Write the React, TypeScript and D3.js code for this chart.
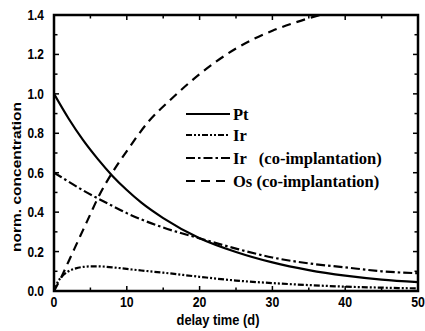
import React from "react";
import * as d3 from "d3";

const ptTime = [0, 2, 4, 6, 8, 10, 12, 15, 20, 25, 30, 35, 40, 45, 50];
const ptValues = [1.0, 0.875, 0.765, 0.67, 0.585, 0.512, 0.448, 0.37, 0.268, 0.198, 0.145, 0.106, 0.078, 0.058, 0.045];

const irTime = [0, 0.5, 1, 2, 3, 4, 5, 6, 8, 10, 12, 15, 20, 25, 30, 35, 40, 45, 50];
const irValues = [0, 0.045, 0.07, 0.1, 0.115, 0.122, 0.125, 0.125, 0.12, 0.112, 0.104, 0.093, 0.072, 0.053, 0.04, 0.03, 0.022, 0.017, 0.013];

const irCoTime = [0, 2, 4, 6, 8, 10, 12, 15, 20, 25, 30, 35, 40, 45, 50];
const irCoValues = [0.6, 0.555, 0.51, 0.47, 0.432, 0.395, 0.363, 0.322, 0.267, 0.215, 0.17, 0.14, 0.12, 0.1, 0.09];

const osTime = [0, 1, 2, 3, 4, 5, 6, 8, 10, 13, 16, 20, 25, 30, 33, 36.5];
const osValues = [0, 0.07, 0.15, 0.23, 0.31, 0.39, 0.47, 0.6, 0.71, 0.86, 0.97, 1.1, 1.23, 1.32, 1.36, 1.4];

const xTickLabels = ["0", "10", "20", "30", "40", "50"];
const yTickLabels = ["0.0", "0.2", "0.4", "0.6", "0.8", "1.0", "1.2", "1.4"];

const legendLabels = ["Pt", "Ir", "Ir   (co-implantation)", "Os (co-implantation)"];

const W = 425;
const H = 331;
const M = { left: 54, right: 418, top: 15, bottom: 291 };

export default function App() {
  const x = d3.scaleLinear().domain([0, 50]).range([M.left, M.right]);
  const y = d3.scaleLinear().domain([0, 1.4]).range([M.bottom, M.top]);

  const line = d3
    .line<[number, number]>()
    .x((d) => x(d[0]))
    .y((d) => y(d[1]))
    .curve(d3.curveMonotoneX);

  const series = [
    { t: ptTime, v: ptValues, dash: "none" },
    { t: irTime, v: irValues, dash: "6,2,2,2,2,2" },
    { t: irCoTime, v: irCoValues, dash: "9,3,2.5,3" },
    { t: osTime, v: osValues, dash: "9,6" },
  ];

  const xMajor = d3.range(0, 51, 10);
  const xMinor = d3.range(5, 50, 10);
  const yMajor = d3.range(0, 8).map((i) => i * 0.2);
  const yMinor = d3.range(0, 7).map((i) => i * 0.2 + 0.1);

  const sans = "'Liberation Sans', Arial, sans-serif";
  const serif = "'Liberation Serif', 'Times New Roman', serif";

  const legendY = [114, 135, 158, 181];

  return (
    <svg width={W} height={H} style={{ position: "absolute", left: 0, top: 0, background: "#fff" }}>
      <defs>
        <clipPath id="plotclip">
          <rect x={M.left} y={M.top} width={M.right - M.left} height={M.bottom - M.top} />
        </clipPath>
      </defs>
      <rect x={0} y={0} width={W} height={H} fill="#fff" />

      {/* curves */}
      <g clipPath="url(#plotclip)">
        {series.map((s, i) => (
          <path
            key={i}
            d={line(s.t.map((t, j) => [t, s.v[j]] as [number, number])) || ""}
            fill="none"
            stroke="#000"
            strokeWidth={2.2}
            strokeDasharray={s.dash}
          />
        ))}
      </g>

      {/* ticks */}
      <g stroke="#000" strokeWidth={1.5}>
        {xMajor.map((v) => (
          <g key={"xM" + v}>
            <line x1={x(v)} x2={x(v)} y1={M.bottom} y2={M.bottom - 5} />
            <line x1={x(v)} x2={x(v)} y1={M.top} y2={M.top + 5} />
          </g>
        ))}
        {xMinor.map((v) => (
          <g key={"xm" + v}>
            <line x1={x(v)} x2={x(v)} y1={M.bottom} y2={M.bottom - 3.5} />
            <line x1={x(v)} x2={x(v)} y1={M.top} y2={M.top + 3.5} />
          </g>
        ))}
        {yMajor.map((v) => (
          <g key={"yM" + v}>
            <line x1={M.left} x2={M.left + 5} y1={y(v)} y2={y(v)} />
            <line x1={M.right} x2={M.right - 5} y1={y(v)} y2={y(v)} />
          </g>
        ))}
        {yMinor.map((v) => (
          <g key={"ym" + v}>
            <line x1={M.left} x2={M.left + 3.5} y1={y(v)} y2={y(v)} />
            <line x1={M.right} x2={M.right - 3.5} y1={y(v)} y2={y(v)} />
          </g>
        ))}
      </g>

      {/* frame */}
      <rect
        x={M.left}
        y={M.top}
        width={M.right - M.left}
        height={M.bottom - M.top}
        fill="none"
        stroke="#000"
        strokeWidth={2.5}
      />

      {/* x tick labels */}
      {xMajor.map((v, i) => (
        <text
          key={"xl" + v}
          transform={`translate(${x(v)},${307}) scale(0.88,1)`}
          textAnchor="middle"
          fontFamily={sans}
          fontWeight="bold"
          fontSize={14}
        >
          {xTickLabels[i]}
        </text>
      ))}

      {/* y tick labels */}
      {yMajor.map((v, i) => (
        <text
          key={"yl" + i}
          transform={`translate(${44},${y(v) + 5}) scale(0.85,1)`}
          textAnchor="end"
          fontFamily={sans}
          fontWeight="bold"
          fontSize={14}
        >
          {yTickLabels[i]}
        </text>
      ))}

      {/* axis titles */}
      <text
        transform={`translate(218,325) scale(0.92,1)`}
        textAnchor="middle"
        fontFamily={sans}
        fontWeight="bold"
        fontSize={14}
      >
        delay time (d)
      </text>
      <text
        transform={`translate(21,177) rotate(-90) scale(1.15,1)`}
        textAnchor="middle"
        fontFamily={sans}
        fontWeight="bold"
        fontSize={13.5}
      >
        norm. concentration
      </text>

      {/* legend */}
      {legendLabels.map((lab, i) => (
        <g key={"lg" + i}>
          <line
            x1={186}
            x2={230}
            y1={legendY[i]}
            y2={legendY[i]}
            stroke="#000"
            strokeWidth={2.2}
            strokeDasharray={series[i].dash}
          />
          <text
            x={233}
            y={legendY[i] + 6}
            fontFamily={serif}
            fontWeight="bold"
            fontSize={16.5}
            style={{ whiteSpace: "pre" }}
          >
            {lab}
          </text>
        </g>
      ))}
    </svg>
  );
}
